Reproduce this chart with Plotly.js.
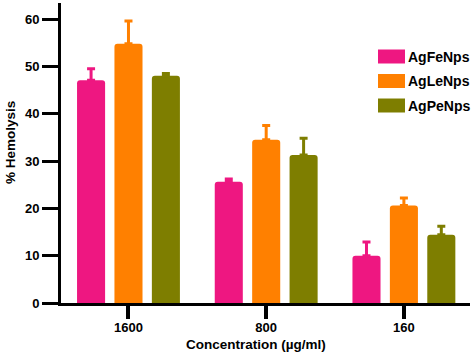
<!DOCTYPE html>
<html>
<head>
<meta charset="utf-8">
<script src="https://cdn.plot.ly/plotly-3.0.1.min.js"></script>
<style>html,body{margin:0;padding:0;background:#fff;}#chart{width:474px;height:355px;}</style>
</head>
<body>
<div id="chart"></div>
<script>
var categories = ["1600", "800", "160"];
var seriesNames = ["AgFeNps", "AgLeNps", "AgPeNps"];
var seriesColors = ["#EE1781", "#FF8000", "#7E7E00"];
var agFeValues = [47.1, 25.6, 10.0];
var agLeValues = [54.8, 34.5, 20.6];
var agPeValues = [48.0, 31.3, 14.4];
var agFeErrors = [2.4, 0.6, 2.9];
var agLeErrors = [4.8, 3.0, 1.6];
var agPeErrors = [0.5, 3.5, 1.8];
var xTitle = "Concentration (µg/ml)";
var yTitle = "% Hemolysis";

var values = [agFeValues, agLeValues, agPeValues];
var errors = [agFeErrors, agLeErrors, agPeErrors];

var FONT = "Liberation Sans, Arial, sans-serif";
var L = 61, R = 4, T = 3, B = 52, W = 474, H = 355;
var pw = W - L - R, ph = H - T - B;
function px2x(p) { return (p - L) / pw; }
function px2y(p) { return (H - B - p) / ph; }

var traces = seriesNames.map(function (name, i) {
  return {
    type: "bar",
    name: name,
    x: categories,
    y: values[i],
    marker: { color: seriesColors[i], line: { width: 0 } },
    error_y: {
      type: "data",
      symmetric: false,
      array: errors[i],
      arrayminus: errors[i].map(function () { return 0; }),
      color: seriesColors[i],
      thickness: 3,
      width: 4
    },
    showlegend: false,
    hoverinfo: "skip"
  };
});

var shapes = [];
var annotations = [];
var legendTop = [49.5, 74, 98.5];
seriesNames.forEach(function (name, i) {
  var top = legendTop[i];
  shapes.push({
    type: "rect", xref: "paper", yref: "paper",
    x0: px2x(378), x1: px2x(405), y0: px2y(top), y1: px2y(top + 14),
    fillcolor: seriesColors[i], line: { width: 0 }
  });
  annotations.push({
    xref: "paper", yref: "paper", x: px2x(406), y: px2y(top + 7),
    xanchor: "left", yanchor: "middle", showarrow: false,
    text: "<b>" + name + "</b>",
    font: { family: FONT, size: 14, color: "#000" }
  });
});
annotations.push({
  xref: "paper", yref: "paper", x: px2x(256), y: px2y(344),
  xanchor: "center", yanchor: "middle", showarrow: false,
  text: "<b>" + xTitle + "</b>",
  font: { family: FONT, size: 13.5, color: "#000" }
});
annotations.push({
  xref: "paper", yref: "paper", x: px2x(10), y: px2y(143),
  xanchor: "center", yanchor: "middle", showarrow: false, textangle: -90,
  text: "<b>" + yTitle + "</b>",
  font: { family: FONT, size: 13.5, color: "#000" }
});

var layout = {
  width: W, height: H,
  margin: { l: L, r: R, t: T, b: B, pad: 0 },
  paper_bgcolor: "#fff", plot_bgcolor: "#fff",
  barmode: "group",
  bargap: 0.185,
  bargroupgap: 0.25,
  barcornerradius: 3,
  showlegend: false,
  font: { family: FONT, color: "#000" },
  xaxis: {
    type: "category",
    range: [-0.49, 2.48],
    showline: true, linewidth: 3, linecolor: "#000",
    showgrid: false, zeroline: false,
    ticks: "outside", ticklen: 13, tickwidth: 4, tickcolor: "#000",
    ticklabelstandoff: -3,
    tickfont: { family: FONT, size: 13, color: "#000", weight: "bold" }
  },
  yaxis: {
    range: [0, 63.4],
    tickvals: [0, 10, 20, 30, 40, 50, 60],
    ticktext: ["0", "10", "20", "30", "40", "50", "60"],
    showline: true, linewidth: 3, linecolor: "#000",
    showgrid: false, zeroline: false,
    ticks: "outside", ticklen: 16, tickwidth: 3, tickcolor: "#000",
    tickfont: { family: FONT, size: 13, color: "#000", weight: "bold" }
  },
  shapes: shapes,
  annotations: annotations
};

Plotly.newPlot("chart", traces, layout, { displayModeBar: false, staticPlot: true });
</script>
</body>
</html>
